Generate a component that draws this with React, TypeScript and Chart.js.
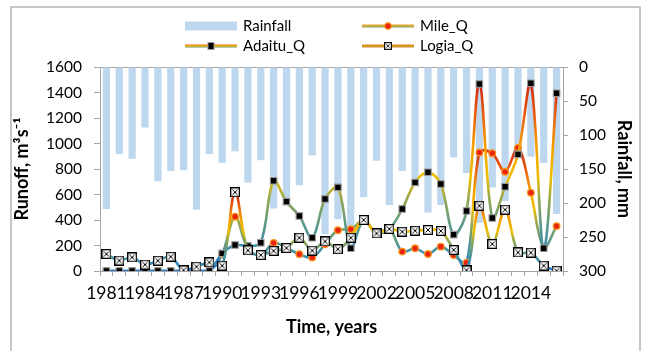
import React, { useEffect, useRef } from 'react';
import { Chart, registerables } from 'chart.js';

Chart.register(...registerables);

const years = ['1981','1982','1983','1984','1985','1986','1987','1988','1989','1990','1991','1992','1993','1994','1995','1996','1997','1998','1999','2000','2001','2002','2003','2004','2005','2006','2007','2008','2009','2010','2011','2012','2013','2014','2015','2016'];

const rainfall = [209,128,135,89,168,153,152,210,128,141,124,170,137,208,203,174,130,246,224,245,191,138,203,153,164,214,203,133,156,229,177,197,132,132,141,216];

const mileQ = [0,0,0,0,0,0,0,0,0,130,426,175,122,220,180,132,106,210,320,328,400,295,330,152,178,133,191,125,65,930,924,778,966,614,185,352];

const adaituQ = [0,0,0,0,0,0,0,0,0,138,204,196,222,708,544,431,261,565,656,178,400,295,330,486,695,774,682,285,471,1467,416,661,915,1472,178,1394];

const logiaQ = [133,82,107,50,81,112,5,34,68,42,618,162,125,158,180,261,160,232,171,261,400,295,330,308,316,322,314,165,5,512,212,481,146,144,42,2];

const leftTicksMax = 1600;
const leftStep = 200;
const rightTicksMax = 300;
const rightStep = 50;

const FONT = 'Lato, "Open Sans", "Noto Sans", sans-serif';

const gradientStops: [number, string][] = [
  [0, '#1f78c8'],
  [0.12, '#3b8fb0'],
  [0.25, '#5d9986'],
  [0.38, '#92a752'],
  [0.5, '#f0bf00'],
  [0.68, '#f59a00'],
  [0.82, '#ea600f'],
  [1, '#d2240f'],
];

function seriesGradient(chart: any, values: number[]) {
  const { ctx, chartArea, scales } = chart;
  if (!chartArea || !scales.y) return '#888';
  const min = Math.min(...values);
  const max = Math.max(...values);
  const bottom = scales.y.getPixelForValue(min);
  let top = scales.y.getPixelForValue(max);
  if (top === bottom) top = bottom - 1;
  const g = ctx.createLinearGradient(0, bottom, 0, top);
  gradientStops.forEach(([o, c]) => g.addColorStop(o, c));
  return g;
}

function makeXBox(size: number) {
  const c = document.createElement('canvas');
  c.width = size;
  c.height = size;
  const g = c.getContext('2d')!;
  g.fillStyle = '#ffffff';
  g.fillRect(0, 0, size, size);
  g.strokeStyle = '#000000';
  g.lineWidth = 1.3;
  g.strokeRect(0.65, 0.65, size - 1.3, size - 1.3);
  g.lineWidth = 1;
  g.beginPath();
  g.moveTo(2.5, 2.5);
  g.lineTo(size - 2.5, size - 2.5);
  g.moveTo(size - 2.5, 2.5);
  g.lineTo(2.5, size - 2.5);
  g.stroke();
  return c;
}

export default function App() {
  const ref = useRef<HTMLCanvasElement | null>(null);

  useEffect(() => {
    if (!ref.current) return;
    const xbox = makeXBox(10);

    const framePlugin = {
      id: 'frame',
      beforeDraw(chart: any) {
        const ctx = chart.ctx;
        ctx.save();
        ctx.fillStyle = '#ffffff';
        ctx.fillRect(0, 0, chart.width, chart.height);
        ctx.strokeStyle = '#b4b4b4';
        ctx.lineWidth = 1.5;
        ctx.strokeRect(11, 7, 629, 360);
        ctx.restore();
      },
      beforeDatasetsDraw(chart: any) {
        const { ctx, chartArea } = chart;
        ctx.save();
        ctx.strokeStyle = '#a6a6a6';
        ctx.lineWidth = 1;
        ctx.beginPath();
        ctx.moveTo(chartArea.left, chartArea.top + 0.5);
        ctx.lineTo(chartArea.right, chartArea.top + 0.5);
        ctx.stroke();
        ctx.restore();
      },
    };

    const legendPlugin = {
      id: 'customLegend',
      afterDraw(chart: any) {
        const ctx = chart.ctx;
        ctx.save();
        const row1 = 26;
        const row2 = 46;
        const colA = 185;
        const colB = 362;
        const lineLen = 52;
        ctx.fillStyle = '#BDD7EE';
        ctx.fillRect(colA, row1 - 4.5, lineLen, 9);
        const drawLegendLine = (x: number, y: number, colors: string[]) => {
          const g = ctx.createLinearGradient(0, y - 1.5, 0, y + 1.5);
          colors.forEach((c, i) => g.addColorStop(i / (colors.length - 1), c));
          ctx.strokeStyle = g;
          ctx.lineWidth = 3;
          ctx.beginPath();
          ctx.moveTo(x, y);
          ctx.lineTo(x + lineLen, y);
          ctx.stroke();
        };
        drawLegendLine(colB, row1, ['#e9a020', '#c8b040', '#8aa060']);
        ctx.beginPath();
        ctx.arc(colB + lineLen / 2, row1, 3.2, 0, Math.PI * 2);
        ctx.fillStyle = '#e8250f';
        ctx.fill();
        ctx.strokeStyle = '#f7941d';
        ctx.lineWidth = 1.2;
        ctx.stroke();
        drawLegendLine(colA, row2, ['#e9681f', '#f0bf00', '#6a9a7a']);
        ctx.fillStyle = '#000';
        ctx.fillRect(colA + lineLen / 2 - 3, row2 - 3.5, 6, 7);
        ctx.strokeStyle = '#9a9a9a';
        ctx.lineWidth = 1;
        ctx.strokeRect(colA + lineLen / 2 - 3, row2 - 3.5, 6, 7);
        drawLegendLine(colB, row2, ['#e08a18', '#d89a20', '#c09030']);
        ctx.drawImage(xbox, colB + lineLen / 2 - 4, row2 - 4, 8, 8);
        ctx.fillStyle = '#000';
        ctx.font = `15px ${FONT}`;
        ctx.textBaseline = 'middle';
        ctx.textAlign = 'left';
        ctx.fillText('Rainfall', colA + lineLen + 6, row1);
        ctx.fillText('Mile_Q', colB + lineLen + 6, row1);
        ctx.fillText('Adaitu_Q', colA + lineLen + 6, row2);
        ctx.fillText('Logia_Q', colB + lineLen + 6, row2);
        ctx.restore();
      },
    };

    const axisColor = '#a6a6a6';

    const chart = new Chart(ref.current, {
      type: 'bar',
      data: {
        labels: years,
        datasets: [
          {
            type: 'bar',
            label: 'Rainfall',
            data: rainfall,
            yAxisID: 'y1',
            backgroundColor: '#BDD7EE',
            barPercentage: 0.56,
            categoryPercentage: 1,
            order: 10,
          } as any,
          {
            type: 'line',
            label: 'Mile_Q',
            data: mileQ,
            yAxisID: 'y',
            borderColor: (c: any) => seriesGradient(c.chart, mileQ),
            borderWidth: 2.6,
            tension: 0.35,
            pointStyle: 'circle',
            pointRadius: 3.3,
            pointBackgroundColor: '#e8250f',
            pointBorderColor: '#f7941d',
            pointBorderWidth: 1.3,
            order: 3,
          },
          {
            type: 'line',
            label: 'Adaitu_Q',
            data: adaituQ,
            yAxisID: 'y',
            borderColor: (c: any) => seriesGradient(c.chart, adaituQ),
            borderWidth: 2.6,
            tension: 0.35,
            pointStyle: 'rect',
            pointRadius: 4.6,
            pointBackgroundColor: '#000000',
            pointBorderColor: '#9a9a9a',
            pointBorderWidth: 1.1,
            order: 2,
          },
          {
            type: 'line',
            label: 'Logia_Q',
            data: logiaQ,
            yAxisID: 'y',
            borderColor: (c: any) => seriesGradient(c.chart, logiaQ),
            borderWidth: 2.6,
            tension: 0.35,
            pointStyle: xbox as any,
            pointRadius: 4.5,
            order: 1,
          },
        ],
      },
      options: {
        responsive: false,
        animation: false,
        devicePixelRatio: 1,
        layout: { padding: { top: 67, left: 0, right: 0, bottom: 0 } },
        plugins: {
          legend: { display: false },
          tooltip: { enabled: false },
        },
        scales: {
          x: {
            type: 'category',
            offset: true,
            grid: {
              offset: true,
              drawOnChartArea: false,
              drawTicks: true,
              tickLength: 5,
              color: axisColor,
            },
            border: { color: axisColor, width: 1 },
            ticks: {
              autoSkip: false,
              maxRotation: 0,
              minRotation: 0,
              padding: 7,
              color: '#000',
              font: { family: FONT, size: 17.5 },
              callback: (_v: any, i: number) => (i % 3 === 0 ? years[i] : ''),
            },
            title: {
              display: true,
              text: 'Time, years',
              color: '#000',
              font: { family: FONT, size: 18, weight: 'bold' },
              padding: { top: 0, bottom: 13 },
            },
            afterFit: (s: any) => {
              s.height = 80;
            },
          },
          y: {
            position: 'left',
            min: 0,
            max: leftTicksMax,
            ticks: {
              stepSize: leftStep,
              padding: 12,
              color: '#000',
              font: { family: FONT, size: 15.5 },
              callback: (v: any) => String(v),
            },
            grid: {
              drawOnChartArea: false,
              drawTicks: true,
              tickLength: 6,
              color: axisColor,
            },
            border: { color: axisColor, width: 1 },
            title: {
              display: true,
              text: 'Runoff, m³s⁻¹',
              color: '#000',
              font: { family: FONT, size: 18, weight: 'bold' },
              padding: { top: 11, bottom: 0 },
            },
            afterFit: (s: any) => {
              s.width = 100;
            },
          },
          y1: {
            position: 'right',
            reverse: true,
            min: 0,
            max: rightTicksMax,
            ticks: {
              stepSize: rightStep,
              padding: 11,
              color: '#000',
              font: { family: FONT, size: 15.5 },
              callback: (v: any) => String(v),
            },
            grid: {
              drawOnChartArea: false,
              drawTicks: true,
              tickLength: 5,
              color: axisColor,
            },
            border: { color: axisColor, width: 1 },
            title: {
              display: true,
              text: 'Rainfall, mm',
              color: '#000',
              font: { family: FONT, size: 18, weight: 'bold' },
              padding: { top: 10, bottom: 0 },
            },
            afterFit: (s: any) => {
              s.width = 82;
            },
          },
        },
      } as any,
      plugins: [framePlugin, legendPlugin],
    });

    return () => chart.destroy();
  }, []);

  return (
    <div style={{ position: 'absolute', left: 0, top: 0, width: 645, height: 351, background: '#fff' }}>
      <canvas ref={ref} width={645} height={351} style={{ display: 'block' }} />
    </div>
  );
}
